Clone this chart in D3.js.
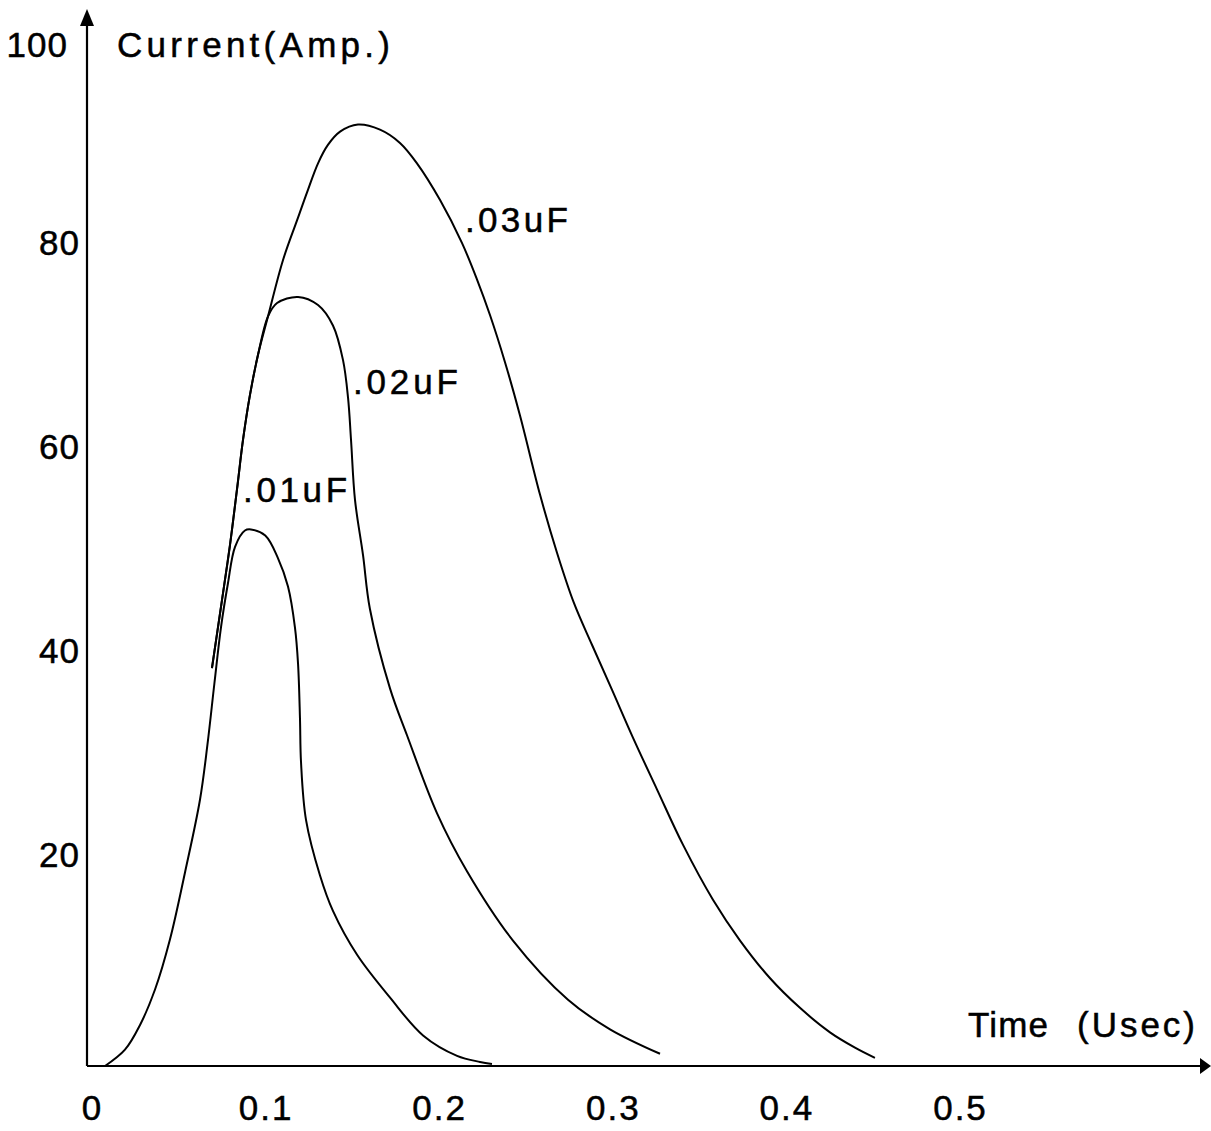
<!DOCTYPE html>
<html>
<head>
<meta charset="utf-8">
<script src="https://cdn.jsdelivr.net/npm/d3@7.9.0/dist/d3.min.js"></script>
<style>
  html, body { margin: 0; padding: 0; background: #fff; }
  svg { display: block; font-family: "Liberation Sans", Arial, Helvetica, sans-serif; }
  svg text { fill: #000; stroke: #000; stroke-width: 0.5px; }
</style>
</head>
<body>
<svg id="chart" width="1211" height="1131"></svg>
<script>
// time (usec) / current (amp), one pair of arrays per capacitor
const t01 = [0.0075, 0.019, 0.0276, 0.0363, 0.0449, 0.0536, 0.0622, 0.0665, 0.0705, 0.0743,
  0.0783, 0.0824, 0.0881, 0.0916, 0.0998, 0.1071, 0.1129, 0.1169, 0.1187, 0.1198,
  0.1204, 0.1233, 0.1313, 0.1388, 0.1527, 0.1717, 0.1907, 0.2103, 0.2235, 0.2304];
const i01 = [0, 1.6, 4.0, 7.5, 12.4, 19.0, 26.1, 31.5, 37.5, 43.0,
  47.3, 50.9, 52.5, 52.6, 52.0, 49.8, 47.0, 43.0, 39.4, 34.1,
  29.8, 24.1, 18.7, 15.2, 10.9, 6.7, 3.0, 1.0, 0.4, 0.2];

const t02 = [0.0691, 0.0749, 0.0795, 0.0835, 0.087, 0.091, 0.0956, 0.1014, 0.1066, 0.1187,
  0.1302, 0.1388, 0.1446, 0.1475, 0.1492, 0.1515, 0.1561, 0.1601, 0.1717, 0.1815,
  0.1987, 0.216, 0.2425, 0.2742, 0.2984, 0.3272];
const i02 = [39.0, 45.7, 51.1, 56.5, 61.4, 65.8, 69.7, 73.5, 74.8, 75.4,
  74.6, 72.6, 69.2, 65.5, 61.4, 55.5, 50.1, 44.8, 37.0, 32.4,
  24.8, 19.1, 12.3, 6.5, 3.6, 1.2];

const t03 = [0.0691, 0.0749, 0.0795, 0.0835, 0.087, 0.091, 0.0956, 0.1014, 0.110, 0.1181,
  0.1244, 0.1302, 0.1359, 0.1429, 0.1532, 0.1659, 0.1774, 0.1872, 0.2005, 0.2131,
  0.2218, 0.2293, 0.2379, 0.2465, 0.2581, 0.2679, 0.2776, 0.288, 0.2995, 0.3116,
  0.3255, 0.3404, 0.3577, 0.3733, 0.3906, 0.4078, 0.4251, 0.4395, 0.451];
const i03 = [39.0, 45.7, 51.1, 56.5, 61.4, 65.8, 69.7, 73.5, 79.0, 82.9,
  85.9, 88.5, 90.3, 91.6, 92.3, 91.8, 90.5, 88.5, 84.9, 80.7,
  77.1, 73.6, 69.0, 63.8, 56.0, 50.3, 45.4, 41.3, 36.9, 32.2,
  27.1, 21.7, 16.3, 12.3, 8.6, 5.7, 3.3, 1.8, 0.8];

const seriesNames = [".01uF", ".02uF", ".03uF"];
const xTicks = [0, 0.1, 0.2, 0.3, 0.4, 0.5];
const xTickLabels = ["0", "0.1", "0.2", "0.3", "0.4", "0.5"];
const yTicks = [20, 40, 60, 80, 100];

const svg = d3.select("#chart");
const x = d3.scaleLinear().domain([0, 0.5]).range([92, 960]);
const y = d3.scaleLinear().domain([0, 100]).range([1066, 46]);

const series = [
  d3.zip(t01, i01),
  d3.zip(t02, i02),
  d3.zip(t03, i03),
];

// axes: plain lines with arrow heads, no tick marks
const x0 = 87, y0 = 1066;
svg.append("line")
  .attr("x1", x0).attr("y1", y0).attr("x2", x0).attr("y2", 14)
  .attr("stroke", "#000").attr("stroke-width", 2.2);
svg.append("line")
  .attr("x1", x0).attr("y1", y0).attr("x2", 1206).attr("y2", y0)
  .attr("stroke", "#000").attr("stroke-width", 2.2);
svg.append("path")
  .attr("d", `M${x0},9 L${x0 - 7},26 L${x0 + 7},26 Z`)
  .attr("fill", "#000");
svg.append("path")
  .attr("d", `M1211,${y0} L1200,${y0 - 8} L1200,${y0 + 8} Z`)
  .attr("fill", "#000");

const xAxis = svg.append("g")
  .attr("transform", `translate(0,${y0})`)
  .call(d3.axisBottom(x).tickValues(xTicks).tickSize(0)
    .tickFormat((d, i) => xTickLabels[i]));
xAxis.select(".domain").remove();
xAxis.selectAll("text")
  .attr("y", 54).attr("dy", null)
  .attr("font-size", 35).attr("letter-spacing", 2)
  .attr("font-family", "Liberation Sans, Arial, sans-serif");

const yAxis = svg.append("g")
  .attr("transform", "translate(80,0)")
  .call(d3.axisLeft(y).tickValues(yTicks).tickSize(0).tickFormat(d3.format("d")));
yAxis.select(".domain").remove();
yAxis.selectAll("text")
  .attr("x", (d) => (d === 100 ? -12 : 0))
  .attr("y", (d) => (d === 100 ? 10 : 4))
  .attr("dy", null)
  .attr("text-anchor", "end")
  .attr("font-size", 35).attr("letter-spacing", 1)
  .attr("font-family", "Liberation Sans, Arial, sans-serif");

// curves
const line = d3.line()
  .x((d) => x(d[0]))
  .y((d) => y(d[1]))
  .curve(d3.curveCatmullRom.alpha(0.5));

svg.selectAll("path.curve")
  .data(series)
  .enter()
  .append("path")
  .attr("class", "curve")
  .attr("d", line)
  .attr("fill", "none")
  .attr("stroke", "#000")
  .attr("stroke-width", 2);

// curve labels (anchor in data space, width to match the wide lettering)
const labelAt = [[0.087, 55.3, 104], [0.1503, 65.9, 105], [0.2148, 81.8, 103]];
svg.selectAll("text.curve-label")
  .data(seriesNames)
  .enter()
  .append("text")
  .attr("class", "curve-label")
  .attr("x", (_, i) => x(labelAt[i][0]))
  .attr("y", (_, i) => y(labelAt[i][1]))
  .attr("textLength", (_, i) => labelAt[i][2])
  .attr("lengthAdjust", "spacing")
  .attr("font-size", 35)
  .text((d) => d);

// axis titles
svg.append("text")
  .attr("x", 117).attr("y", 57)
  .attr("textLength", 273).attr("lengthAdjust", "spacing")
  .attr("font-size", 35)
  .text("Current(Amp.)");
svg.append("text")
  .attr("x", 968).attr("y", 1037)
  .attr("textLength", 80).attr("lengthAdjust", "spacing")
  .attr("font-size", 35)
  .text("Time");
svg.append("text")
  .attr("x", 1077).attr("y", 1037)
  .attr("textLength", 118).attr("lengthAdjust", "spacing")
  .attr("font-size", 35)
  .text("(Usec)");
</script>
</body>
</html>
